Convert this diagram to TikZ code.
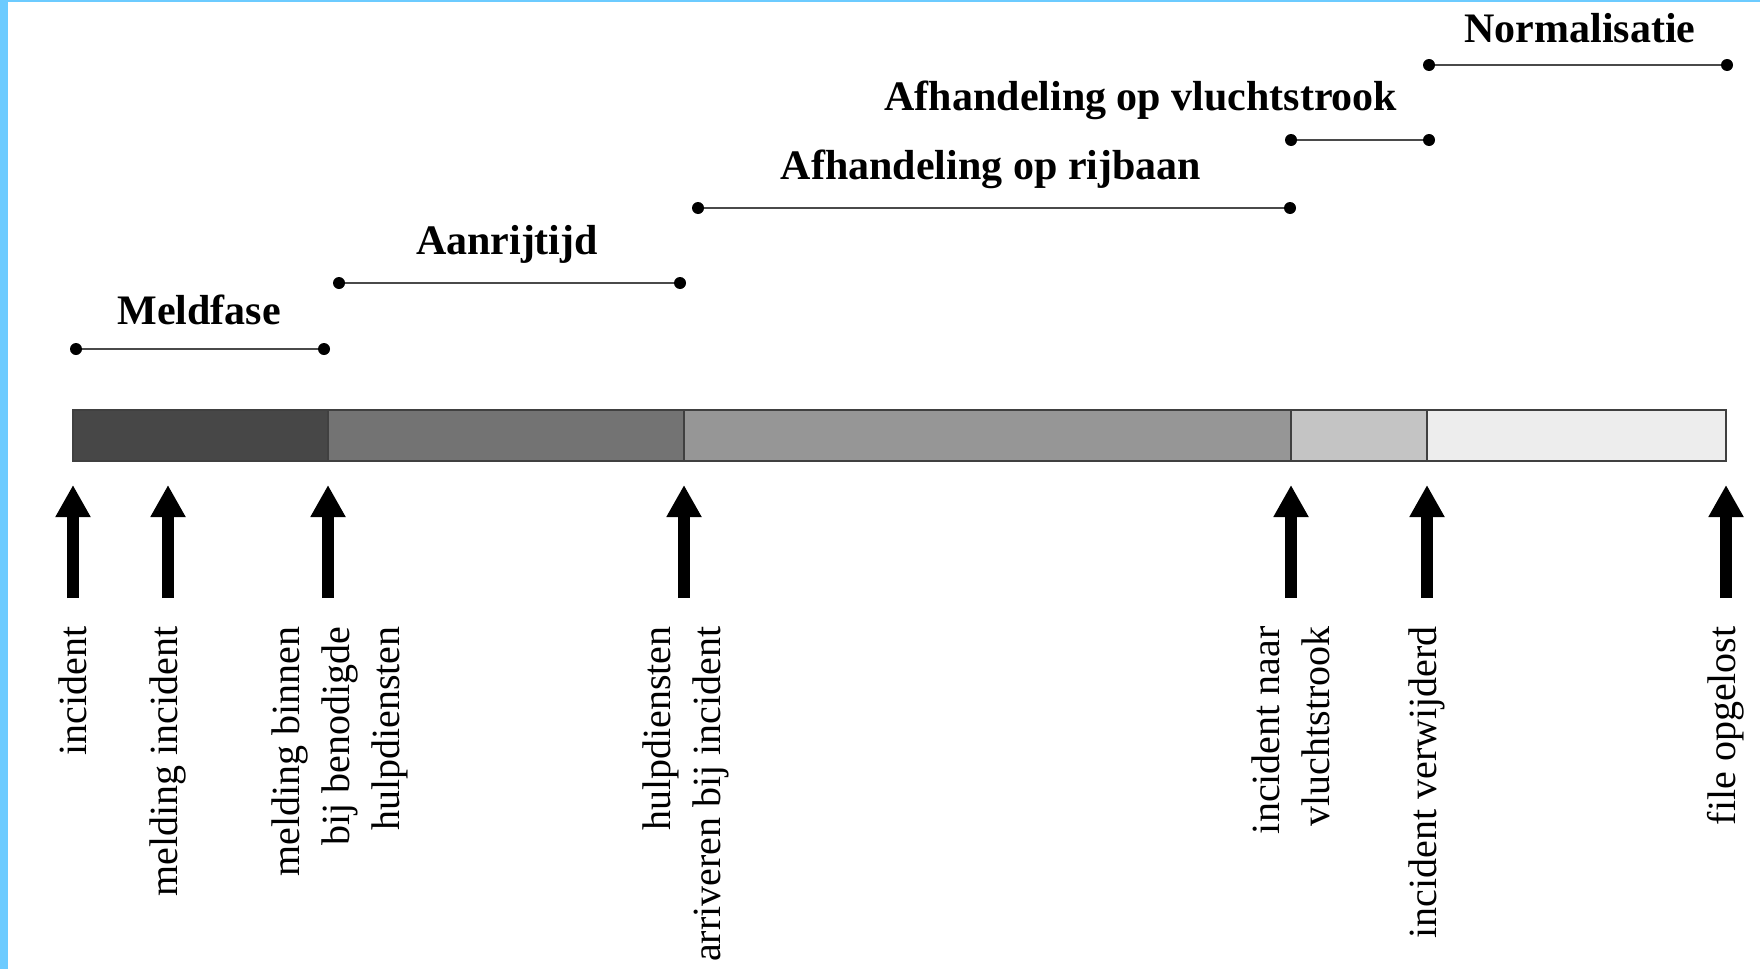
\documentclass[tikz,border=0pt]{standalone}
\usepackage{fontspec}
\setmainfont{Liberation Serif}
\usetikzlibrary{arrows.meta}
\definecolor{edgecyan}{HTML}{6CCBFF}
\definecolor{phaseline}{HTML}{4A4A4A}
\tikzset{
  phaselabel/.style={font=\fontsize{21}{25}\selectfont\bfseries, inner sep=0pt},
  phasebar/.style={draw=phaseline, line width=1.1pt},
  eventarrow/.style={line width=6pt, -{Triangle[width=16.5pt,length=16pt]}},
  eventlabel/.style={font=\fontsize{20}{25}\selectfont, rotate=90, anchor=east, align=right, inner sep=0pt},
  segment/.style={draw=black!75, line width=1pt}
}
\begin{document}
\begin{tikzpicture}[x=0.5pt, y=-0.5pt]
\useasboundingbox (0,0) rectangle (1760,969);
\fill [white] (0,0) rectangle (1760,969);
\fill [edgecyan] (0,0) rectangle (8,969);
\fill [edgecyan] (0,0) rectangle (1760,2);
% balk met fasen
\draw [segment, fill=black!72] (73,410) rectangle (328,461);
\draw [segment, fill=black!55] (328,410) rectangle (684,461);
\draw [segment, fill=black!41] (684,410) rectangle (1291,461);
\draw [segment, fill=black!23] (1291,410) rectangle (1427,461);
\draw [segment, fill=black!7] (1427,410) rectangle (1726,461);
% tijdsintervallen
\foreach \name/\xa/\xb/\yy/\lx/\ly/\txt in {
    meld/76/324/349/199/310/Meldfase,
    aanrij/339/680/283/507/244/Aanrijtijd,
    rijbaan/698/1290/208/991/169/Afhandeling op rijbaan,
    vlucht/1291/1429/140/1141/100/Afhandeling op vluchtstrook,
    norm/1429/1727/65/1580/28/Normalisatie} {
  \coordinate (\name-a) at (\xa,\yy);
  \coordinate (\name-b) at (\xb,\yy);
  \draw [phasebar] (\name-a) -- (\name-b);
  \fill [fill = black] (\name-a) circle (3pt);
  \fill [fill = black] (\name-b) circle (3pt);
  \node [phaselabel] (\name-lbl) at (\lx,\ly) {\txt};
}
% gebeurtenissen
\foreach \name/\xx/\dx/\txt in {
    inc/73/0/incident,
    meldinc/168/0/melding incident,
    binnen/328/12/{melding binnen\\bij benodigde\\hulpdiensten},
    arriv/684/2/{hulpdiensten\\arriveren bij incident},
    naar/1291/0/{incident naar\\vluchtstrook},
    verw/1427/0/incident verwijderd,
    file/1726/0/file opgelost} {
  \coordinate (\name-foot) at (\xx,598);
  \coordinate (\name-tip) at (\xx,485);
  \draw [eventarrow] (\name-foot) -- (\name-tip);
  \node [eventlabel] (\name-lbl) at (\xx+\dx,626) {\txt};
}
\end{tikzpicture}
\end{document}
